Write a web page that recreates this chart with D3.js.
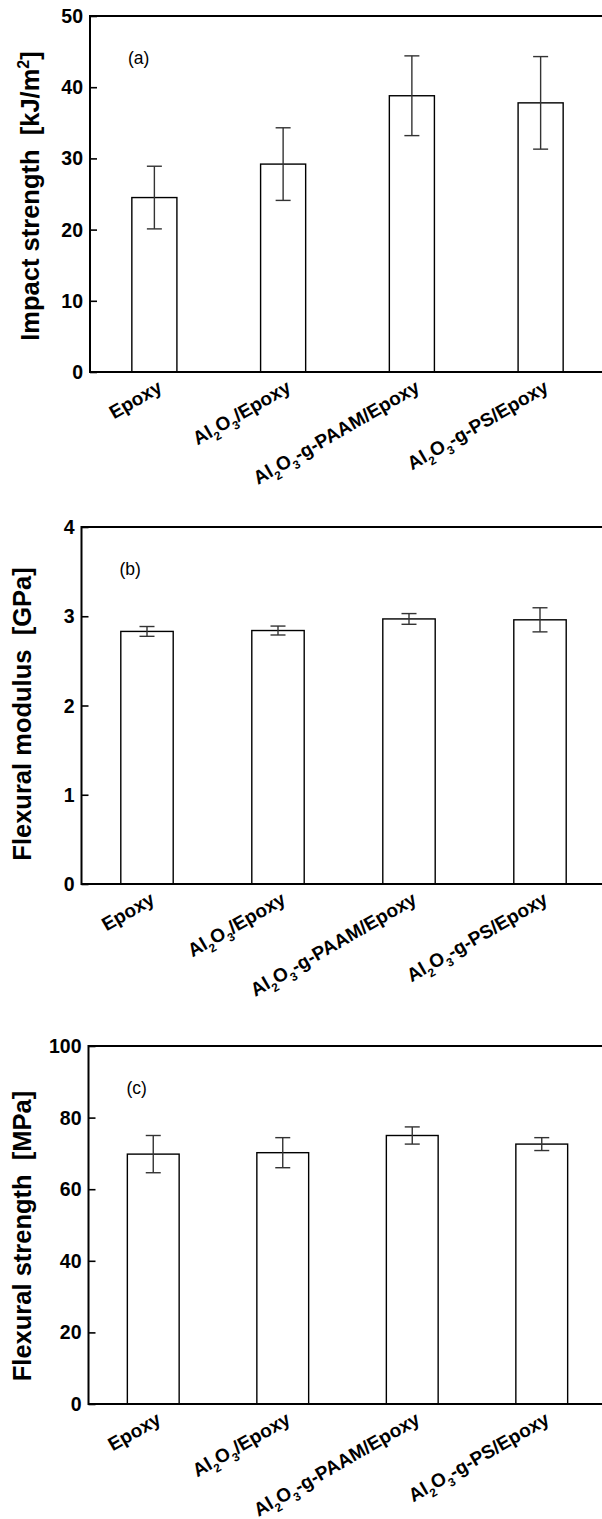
<!DOCTYPE html>
<html>
<head>
<meta charset="utf-8">
<script src="https://cdn.jsdelivr.net/npm/d3@7"></script>
<style>
  body { margin: 0; background: #fff; }
  svg { display: block; font-family: "Liberation Sans", Arial, sans-serif; }
</style>
</head>
<body>
<svg id="chart" width="602" height="1519"></svg>
<script>
// data
var categories = ["Epoxy", "Al2O3/Epoxy", "Al2O3-g-PAAM/Epoxy", "Al2O3-g-PS/Epoxy"];

var impact = [24.5, 29.2, 38.8, 37.8];
var impactErr = [4.4, 5.1, 5.6, 6.5];
var impactTicks = [0, 10, 20, 30, 40, 50];

var modulus = [2.83, 2.84, 2.97, 2.96];
var modulusErr = [0.055, 0.05, 0.06, 0.135];
var modulusTicks = [0, 1, 2, 3, 4];

var strength = [69.8, 70.2, 75.0, 72.6];
var strengthErr = [5.2, 4.2, 2.4, 1.8];
var strengthTicks = [0, 20, 40, 60, 80, 100];

var svg = d3.select("#chart");

// write a string, digits become subscripts (Al2O3 etc.)
function chemText(sel, str, size) {
    var parts = str.split(/(\d)/).filter(function(p) { return p !== ""; });
    var shift = 0;
    parts.forEach(function(p) {
        var ts = sel.append("tspan").text(p);
        if (/\d/.test(p)) {
            ts.attr("font-size", size * 0.62).attr("dy", size * 0.3 - shift);
            shift = size * 0.3;
        } else {
            ts.attr("dy", -shift);
            shift = 0;
        }
    });
}

function panel(opt) {
    var g = svg.append("g");
    var x = d3.scaleBand()
        .domain(categories)
        .range([opt.left, opt.right])
        .paddingInner(opt.pad)
        .paddingOuter(opt.pad / 2);
    var y = d3.scaleLinear().domain([0, opt.max]).range([opt.bottom, opt.top]);

    // bars
    g.selectAll("rect.bar").data(opt.values).enter().append("rect")
        .attr("class", "bar")
        .attr("x", function(d, i) { return x(categories[i]); })
        .attr("y", function(d) { return y(d); })
        .attr("width", x.bandwidth())
        .attr("height", function(d) { return y(0) - y(d); })
        .attr("fill", "#fff")
        .attr("stroke", "#000")
        .attr("stroke-width", 1.4);

    // error bars
    var cap = 7.5;
    opt.values.forEach(function(v, i) {
        var cx = x(categories[i]) + x.bandwidth() / 2;
        var hi = y(v + opt.err[i]), lo = y(v - opt.err[i]);
        var eg = g.append("g").attr("stroke", "#333").attr("stroke-width", 1.4);
        eg.append("line").attr("x1", cx).attr("x2", cx).attr("y1", hi).attr("y2", lo);
        eg.append("line").attr("x1", cx - cap).attr("x2", cx + cap).attr("y1", hi).attr("y2", hi);
        eg.append("line").attr("x1", cx - cap).attr("x2", cx + cap).attr("y1", lo).attr("y2", lo);
    });

    // left axis with inward ticks
    var minor = [];
    for (var k = 0; k < opt.ticks.length - 1; k++) minor.push((opt.ticks[k] + opt.ticks[k + 1]) / 2);
    var ax = g.append("g").attr("transform", "translate(" + opt.left + ",0)");
    ax.call(d3.axisRight(y).tickValues(minor).tickSize(4.5).tickFormat(""));
    ax.call(d3.axisRight(y).tickValues(opt.ticks).tickSize(7).tickFormat(""));
    ax.selectAll("line").attr("stroke", "#000").attr("stroke-width", 1.6);
    ax.selectAll(".domain").remove();

    g.selectAll("text.tick").data(opt.ticks).enter().append("text")
        .attr("x", opt.left - 7)
        .attr("y", function(d) { return y(d); })
        .attr("dy", "0.36em")
        .attr("text-anchor", "end")
        .attr("font-size", 19.5)
        .attr("font-weight", "bold")
        .text(function(d) { return d; });

    // frame lines: left, top, bottom
    g.append("line").attr("x1", opt.left).attr("x2", opt.left).attr("y1", opt.top - 1).attr("y2", opt.bottom + 1)
        .attr("stroke", "#000").attr("stroke-width", 2);
    g.append("line").attr("x1", opt.left).attr("x2", opt.right).attr("y1", opt.top).attr("y2", opt.top)
        .attr("stroke", "#000").attr("stroke-width", 2);
    g.append("line").attr("x1", opt.left).attr("x2", opt.right).attr("y1", opt.bottom).attr("y2", opt.bottom)
        .attr("stroke", "#000").attr("stroke-width", 2);

    // category labels
    categories.forEach(function(c) {
        var t = g.append("text")
            .attr("transform", "translate(" + (x(c) + x.bandwidth() / 2 + 9) + "," + (opt.bottom + 19) + ") rotate(-30)")
            .attr("text-anchor", "end")
            .attr("font-size", 19)
            .attr("font-weight", "bold");
        chemText(t, c, 19);
    });

    // panel tag
    g.append("text")
        .attr("x", opt.left + 38)
        .attr("y", opt.top + 48)
        .attr("font-size", 17.5)
        .text(opt.tag);

    // y title
    var tt = g.append("text")
        .attr("transform", "translate(" + opt.titleX + "," + opt.titleY + ") rotate(-90)")
        .attr("text-anchor", "middle")
        .attr("font-size", 25.5)
        .attr("font-weight", "bold");
    tt.append("tspan").text(opt.title);
    if (opt.unit === "kJ/m2") {
        tt.append("tspan").text("[kJ/m");
        tt.append("tspan").attr("font-size", 16).attr("dy", -10).text("2");
        tt.append("tspan").attr("dy", 10).text("]");
    } else {
        tt.append("tspan").text("[" + opt.unit + "]");
    }
}

panel({ values: impact, err: impactErr, ticks: impactTicks, max: 50,
        left: 90, right: 605, top: 16, bottom: 372, pad: 0.65,
        tag: "(a)", title: "Impact strength\u00a0\u00a0", unit: "kJ/m2", titleX: 39, titleY: 196 });
panel({ values: modulus, err: modulusErr, ticks: modulusTicks, max: 4,
        left: 81.5, right: 605.5, top: 527, bottom: 884, pad: 0.6,
        tag: "(b)", title: "Flexural modulus\u00a0\u00a0", unit: "GPa", titleX: 31, titleY: 714 });
panel({ values: strength, err: strengthErr, ticks: strengthTicks, max: 100,
        left: 88.5, right: 606.5, top: 1046, bottom: 1404, pad: 0.6,
        tag: "(c)", title: "Flexural strength\u00a0\u00a0", unit: "MPa", titleX: 31, titleY: 1236 });
</script>
</body>
</html>
